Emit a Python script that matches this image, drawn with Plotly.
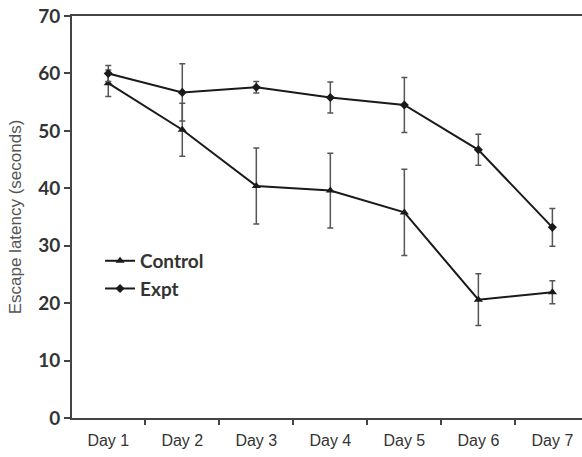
import plotly.graph_objects as go

days = ["Day 1", "Day 2", "Day 3", "Day 4", "Day 5", "Day 6", "Day 7"]
control = [58.3, 50.2, 40.4, 39.6, 35.8, 20.6, 21.9]
control_err = [2.3, 4.6, 6.6, 6.5, 7.5, 4.5, 2.0]
expt = [60.0, 56.7, 57.6, 55.8, 54.5, 46.7, 33.2]
expt_err = [1.4, 5.0, 1.0, 2.7, 4.8, 2.7, 3.3]
y_ticks = [0, 10, 20, 30, 40, 50, 60, 70]

fig = go.Figure()
fig.add_trace(go.Scatter(
    x=days, y=control, name="Control", mode="lines+markers",
    line=dict(color="#1a1a1a", width=2),
    marker=dict(symbol="triangle-up", size=8, color="#1a1a1a"),
    error_y=dict(type="data", array=control_err, visible=True,
                 color="#555555", thickness=1.5, width=3),
))
fig.add_trace(go.Scatter(
    x=days, y=expt, name="Expt", mode="lines+markers",
    line=dict(color="#1a1a1a", width=2),
    marker=dict(symbol="diamond", size=7, color="#1a1a1a"),
    error_y=dict(type="data", array=expt_err, visible=True,
                 color="#555555", thickness=1.5, width=3),
))

fig.update_layout(
    width=582, height=457,
    margin=dict(l=72, r=0, t=16, b=39, autoexpand=False),
    paper_bgcolor="white", plot_bgcolor="white",
    showlegend=True,
    legend=dict(x=0.055, y=0.438, xanchor="left", yanchor="top",
                bgcolor="rgba(0,0,0,0)", itemwidth=30,
                font=dict(family="Lato", size=19, color="#333333", weight="bold"),
                tracegroupgap=6),
    xaxis=dict(
        type="category", range=[-0.49, 6.4], automargin=False,
        showline=True, linecolor="#444444", linewidth=2, mirror=True,
        ticks="outside", ticklen=5, tickwidth=1.5, tickcolor="#444444",
        tickson="boundaries", showgrid=False, zeroline=False,
        ticklabelstandoff=7,
        tickfont=dict(family="Liberation Sans", size=16, color="#333333"),
    ),
    yaxis=dict(
        range=[0, 70], tickvals=y_ticks, automargin=False,
        showline=True, linecolor="#444444", linewidth=2,
        ticks="outside", ticklen=6, tickwidth=1.5, tickcolor="#444444",
        showgrid=False, zeroline=False,
        tickfont=dict(family="Lato", size=19, color="#333333", weight="bold"),
        title=dict(text="Escape latency (seconds)", standoff=12,
                   font=dict(family="Liberation Sans", size=17, color="#555555")),
    ),
)

fig.write_html("out.html", config={"displayModeBar": False},
               post_script="document.body.style.margin='0px';")
